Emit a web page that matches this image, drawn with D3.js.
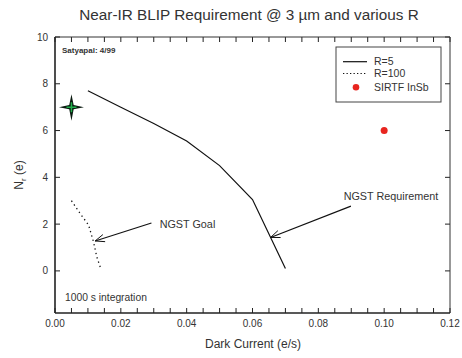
<!DOCTYPE html>
<html><head><meta charset="utf-8">
<script src="https://cdn.jsdelivr.net/npm/d3@7"></script>
<style>body{margin:0;background:#fff}svg{display:block;font-family:"Liberation Sans",Arial,sans-serif}</style>
</head><body><svg id="c" width="462" height="358"></svg>
<script>
// ---- data ----
const r5X = [0.010, 0.020, 0.030, 0.040, 0.050, 0.060, 0.070];
const r5Y = [7.7, 7.0, 6.3, 5.55, 4.5, 3.05, 0.1];
const r100X = [0.005, 0.0076, 0.0102, 0.0117, 0.0127, 0.0139];
const r100Y = [3.0, 2.46, 1.96, 1.24, 0.6, 0.1];
const sirtf = [{x: 0.100, y: 6.0}];
const starPt = [{x: 0.005, y: 7.0}];
const xTicks = [0, 0.02, 0.04, 0.06, 0.08, 0.10, 0.12];
const yTicks = [0, 2, 4, 6, 8, 10];
const legendLabels = ["R=5", "R=100", "SIRTF InSb"];
const annotations = [
  {text: "NGST Goal", tx: 0.0293, ty: 2.05, hx: 0.0122, hy: 1.28, lx: 0.0318, ly: 1.85},
  {text: "NGST Requirement", tx: 0.0899, ty: 2.77, hx: 0.0655, hy: 1.43, lx: 0.0877, ly: 3.05}
];

const svg = d3.select("#c");
const L = 55, R = 450, T = 37, B = 313;
const x = d3.scaleLinear().domain([0, 0.12]).range([L, R]);
const y = d3.scaleLinear().domain([-1.8, 10]).range([B, T]);

// title
svg.append("text").attr("x", 249).attr("y", 20).attr("text-anchor", "middle")
  .attr("font-size", 15.3).attr("fill", "#333").text("Near-IR BLIP Requirement @ 3 \u00b5m and various R");

// ticks
const minor = d3.range(0, 0.1201, 0.005);
const tg = svg.append("g").attr("stroke", "#222").attr("stroke-width", 1);
minor.forEach(v => {
  tg.append("line").attr("x1", x(v)).attr("x2", x(v)).attr("y1", B).attr("y2", B - 5);
  tg.append("line").attr("x1", x(v)).attr("x2", x(v)).attr("y1", T).attr("y2", T + 5);
});
yTicks.forEach(v => {
  tg.append("line").attr("x1", L).attr("x2", L + 5).attr("y1", y(v)).attr("y2", y(v));
  tg.append("line").attr("x1", R).attr("x2", R - 5).attr("y1", y(v)).attr("y2", y(v));
});

// frame
svg.append("line").attr("x1", L).attr("x2", R).attr("y1", T).attr("y2", T).attr("stroke", "#333");
svg.append("line").attr("x1", R).attr("x2", R).attr("y1", T).attr("y2", B).attr("stroke", "#333");
svg.append("line").attr("x1", L).attr("x2", L).attr("y1", T).attr("y2", B).attr("stroke", "#222").attr("stroke-width", 1.6);
svg.append("line").attr("x1", L).attr("x2", R).attr("y1", B).attr("y2", B).attr("stroke", "#222").attr("stroke-width", 1.6);

// tick labels
svg.append("g").selectAll("text").data(xTicks).join("text")
  .attr("x", d => x(d)).attr("y", 327).attr("text-anchor", "middle")
  .attr("font-size", 10).attr("fill", "#333").text(d => d3.format(".2f")(d));
svg.append("g").selectAll("text").data(yTicks).join("text")
  .attr("x", 48).attr("y", d => y(d) + 3.5).attr("text-anchor", "end")
  .attr("font-size", 10).attr("fill", "#333").text(d => d);

// axis titles
svg.append("text").attr("x", 253).attr("y", 348).attr("text-anchor", "middle")
  .attr("font-size", 12).attr("fill", "#333").text("Dark Current (e/s)");
const yl = svg.append("text").attr("transform", "translate(23,175) rotate(-90)")
  .attr("text-anchor", "middle").attr("font-size", 12).attr("fill", "#333");
yl.append("tspan").text("N");
yl.append("tspan").attr("font-size", 8).attr("dy", 3).text("r");
yl.append("tspan").attr("dy", -3).text(" (e)");

// lines
const line = d3.line().x(d => x(d[0])).y(d => y(d[1]));
svg.append("path").attr("d", line(d3.zip(r5X, r5Y))).attr("fill", "none")
  .attr("stroke", "#111").attr("stroke-width", 1.2);
svg.append("path").attr("d", line(d3.zip(r100X, r100Y))).attr("fill", "none")
  .attr("stroke", "#111").attr("stroke-width", 1.3).attr("stroke-dasharray", "1.3,3.2");

// SIRTF point
svg.selectAll("circle.s").data(sirtf).join("circle").attr("class", "s")
  .attr("cx", d => x(d.x)).attr("cy", d => y(d.y)).attr("r", 3.5).attr("fill", "#e8251f");

// star marker
starPt.forEach(p => {
  const cx = x(p.x), cy = y(p.y);
  const g = svg.append("g").attr("transform", `translate(${cx},${cy})`);
  g.append("path").attr("d", "M0,-13 L2.2,-2.2 L12.5,0 L2.2,2.2 L0,13.5 L-2.2,2.2 L-12.5,0 L-2.2,-2.2 Z").attr("fill", "#0a1a10");
  g.append("path").attr("d", "M-5,0 H5 M0,-5 V5").attr("stroke", "#1fae4a").attr("stroke-width", 1.5);
});

// annotations
annotations.forEach(a => {
  const x1 = x(a.tx), y1 = y(a.ty), x2 = x(a.hx), y2 = y(a.hy);
  svg.append("line").attr("x1", x1).attr("y1", y1).attr("x2", x2).attr("y2", y2)
    .attr("stroke", "#111").attr("stroke-width", 1.2);
  const ang = Math.atan2(y1 - y2, x1 - x2), len = 10, spread = 0.38;
  const p1 = [x2 + len * Math.cos(ang + spread), y2 + len * Math.sin(ang + spread)];
  const p2 = [x2 + len * Math.cos(ang - spread), y2 + len * Math.sin(ang - spread)];
  svg.append("path").attr("d", `M${p1[0]},${p1[1]} L${x2},${y2} L${p2[0]},${p2[1]}`)
    .attr("fill", "none").attr("stroke", "#111").attr("stroke-width", 1);
  svg.append("text").attr("x", x(a.lx)).attr("y", y(a.ly)).attr("font-size", 10.8)
    .attr("fill", "#333").text(a.text);
});

// notes
svg.append("text").attr("x", 62).attr("y", 53).attr("font-size", 8).attr("font-weight", "bold").attr("fill", "#333").text("Satyapal: 4/99");
svg.append("text").attr("x", 65).attr("y", 301).attr("font-size", 10.3).attr("fill", "#333").text("1000 s integration");

// legend
const lg = svg.append("g");
lg.append("rect").attr("x", 336).attr("y", 47).attr("width", 105).attr("height", 55)
  .attr("fill", "#fff").attr("stroke", "#444").attr("stroke-width", 1);
const ly = [61.7, 73.5, 87.3];
lg.append("line").attr("x1", 343).attr("x2", 367).attr("y1", ly[0]).attr("y2", ly[0]).attr("stroke", "#111").attr("stroke-width", 1.2);
lg.append("line").attr("x1", 343).attr("x2", 367).attr("y1", ly[1]).attr("y2", ly[1]).attr("stroke", "#111").attr("stroke-width", 1.2).attr("stroke-dasharray", "1.3,2.2");
lg.append("circle").attr("cx", 356).attr("cy", ly[2]).attr("r", 3.3).attr("fill", "#e8251f");
lg.selectAll("text").data(legendLabels).join("text")
  .attr("x", 374).attr("y", (d, i) => ly[i] + 3.5).attr("font-size", 10.5).attr("fill", "#333").text(d => d);
</script></body></html>
